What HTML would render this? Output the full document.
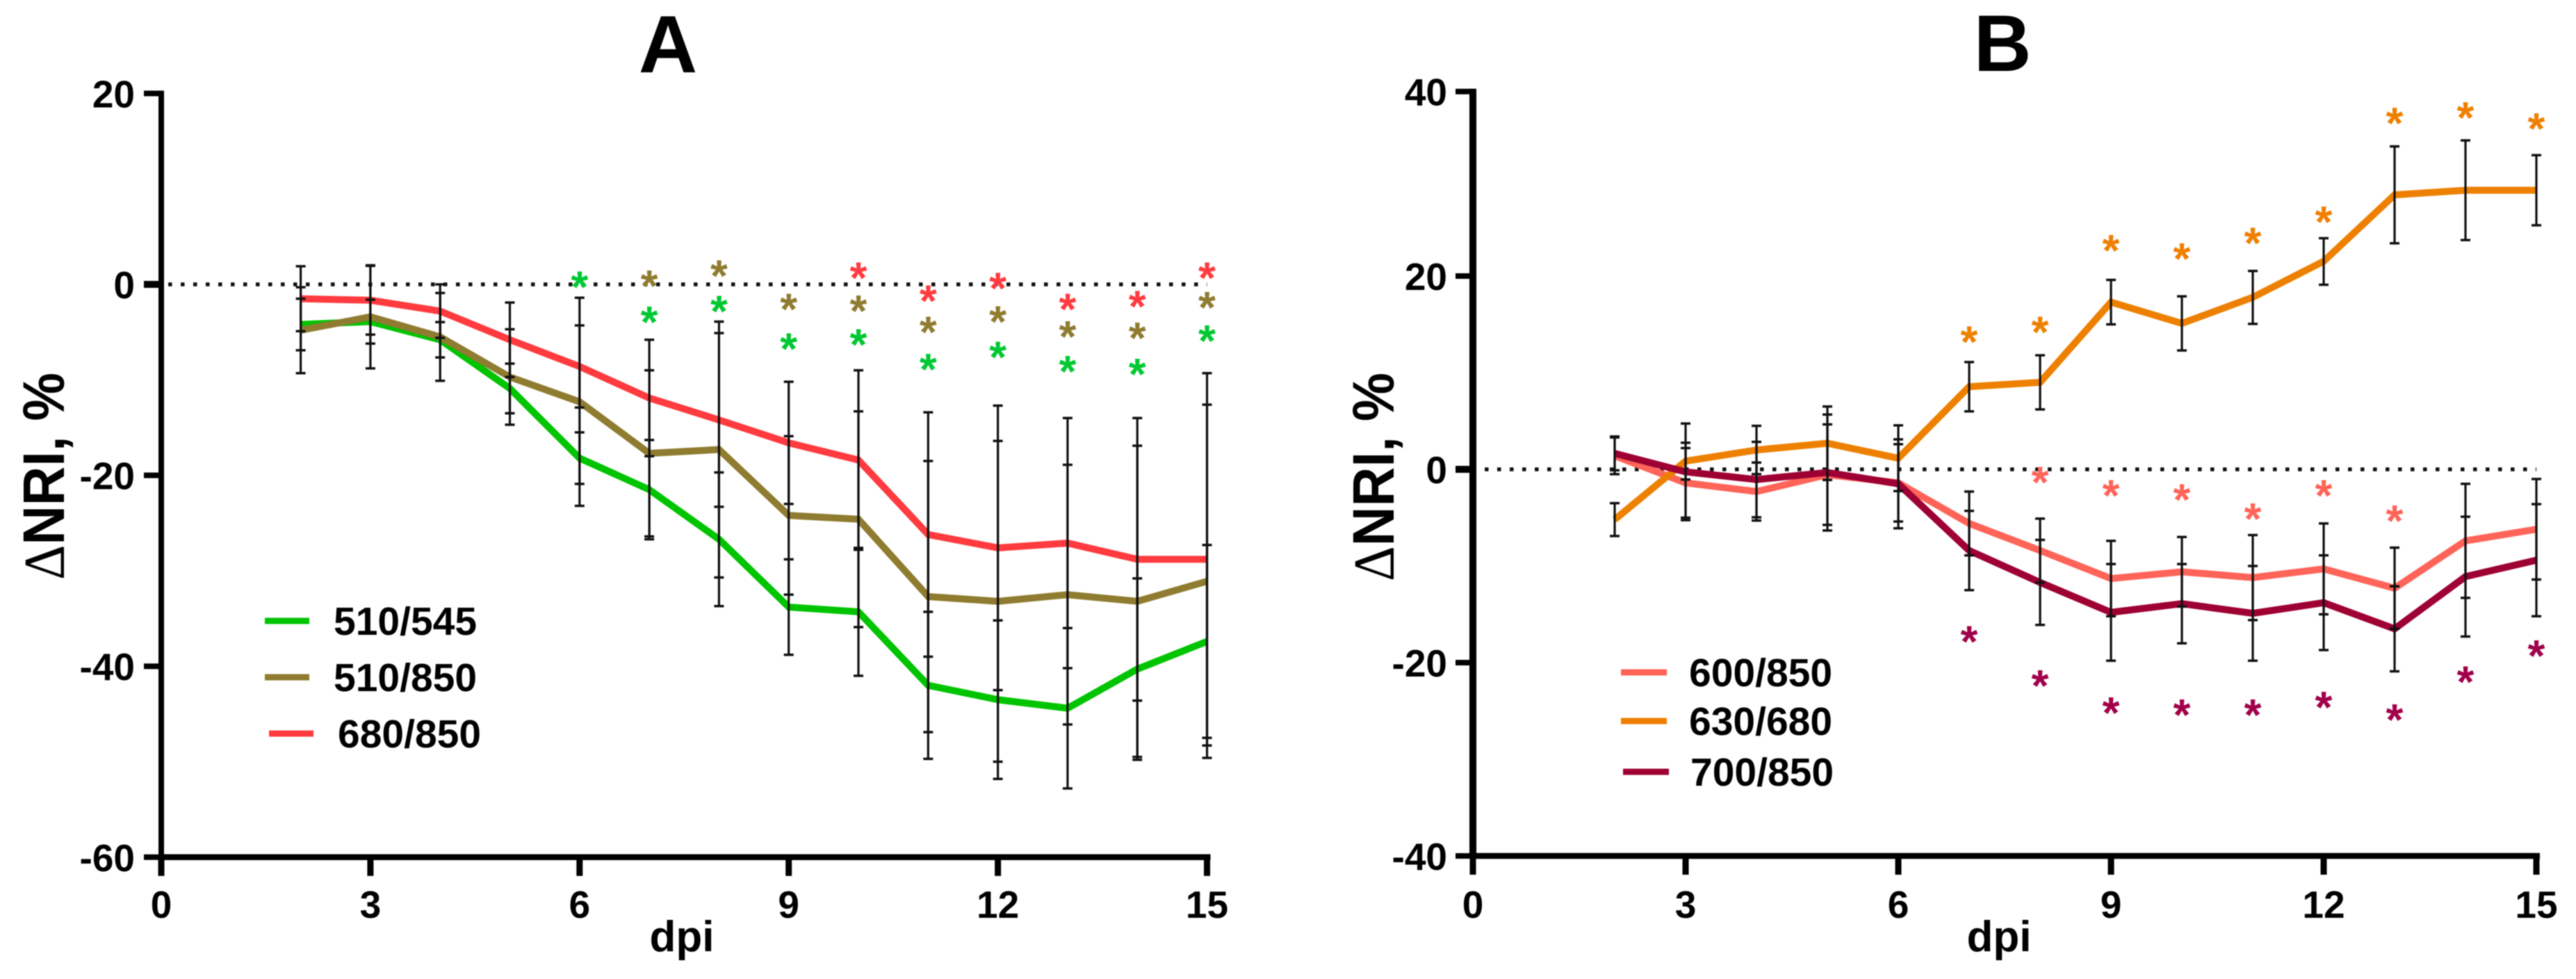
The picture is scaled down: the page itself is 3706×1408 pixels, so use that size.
<!DOCTYPE html>
<html>
<head>
<meta charset="utf-8">
<title>Delta NRI charts</title>
<style>
html,body{margin:0;padding:0;background:#fff;}
svg{display:block;font-family:"Liberation Sans",Arial,sans-serif;filter:blur(0.7px);}
</style>
</head>
<body>
<svg id="chart" xmlns="http://www.w3.org/2000/svg" width="3706" height="1408" viewBox="0 0 3706 1408">
<rect width="3706" height="1408" fill="#fff"/>
<g id="panelA">
<text x="961" y="104" font-size="117" font-weight="bold" text-anchor="middle">A</text>
<text transform="translate(92,685) rotate(-90)" font-size="84" font-weight="bold" text-anchor="middle" textLength="298" lengthAdjust="spacingAndGlyphs"><tspan font-family="'Liberation Serif',serif" font-weight="normal">Δ</tspan>NRI, %</text>
<text x="981" y="1368" font-size="62" font-weight="bold" text-anchor="middle">dpi</text>
</g>
<g id="panelB">
<text x="2881" y="102" font-size="115" font-weight="bold" text-anchor="middle">B</text>
<text transform="translate(2005,686) rotate(-90)" font-size="84" font-weight="bold" text-anchor="middle" textLength="300" lengthAdjust="spacingAndGlyphs"><tspan font-family="'Liberation Serif',serif" font-weight="normal">Δ</tspan>NRI, %</text>
<text x="2876" y="1368" font-size="62" font-weight="bold" text-anchor="middle">dpi</text>
</g>
</svg>
<script>
const dpi = [2,3,4,5,6,7,8,9,10,11,12,13,14,15];
const xTickLabels = [0,3,6,9,12,15];
const yTickLabelsA = [20,0,-20,-40,-60];
const yTickLabelsB = [40,20,0,-20,-40];

const green510545 = [-4.2,-3.9,-5.8,-10.9,-18.2,-21.5,-26.7,-33.8,-34.3,-42.0,-43.5,-44.4,-40.3,-37.4];
const brown510850 = [-4.8,-3.4,-5.5,-9.7,-12.3,-17.7,-17.3,-24.2,-24.6,-32.7,-33.2,-32.5,-33.2,-31.1];
const red680850 = [-1.5,-1.66,-2.8,-5.8,-8.6,-11.9,-14.2,-16.6,-18.4,-26.2,-27.6,-27.1,-28.8,-28.8];
const green510545Err = [2.7,2.3,1.85,2.6,2.7,5.2,7.0,5.0,6.7,7.7,8.3,8.4,9.5,10.1];
const brown510850Err = [4.5,5.4,4.6,5.0,10.9,8.7,13.4,8.3,11.3,14.2,16.8,13.6,16.3,18.5];
const red680850Err = [3.4,3.6,2.8,3.9,4.3,6.1,9.1,6.4,9.4,12.8,14.9,13.1,14.8,19.5];
const green510545Stars = [null,null,null,null,0.55,-3.15,-2.0,-5.95,-5.5,-8.1,-6.8,-8.3,-8.6,-5.1];
const brown510850Stars = [null,null,null,null,null,0.65,1.7,-1.8,-1.95,-4.2,-3.1,-4.65,-4.8,-1.6];
const red680850Stars = [null,null,null,null,null,null,null,null,1.5,-0.9,0.4,-1.8,-1.5,1.5];

const rose600850 = [1.4,-1.4,-2.3,-0.55,-1.4,-5.6,-8.4,-11.3,-10.6,-11.2,-10.3,-12.3,-7.4,-6.2];
const orange630680 = [-5.2,0.85,2.0,2.7,1.15,8.55,9.0,17.3,15.1,17.8,21.6,28.8,29.3,29.3];
const maroon700850 = [1.65,-0.26,-1.06,-0.33,-1.5,-8.4,-11.7,-14.8,-13.9,-14.9,-13.8,-16.5,-11.1,-9.4];
const rose600850Err = [1.9,3.6,3.0,5.2,4.0,3.3,3.3,3.9,3.6,4.4,4.7,4.2,5.9,5.2];
const orange630680Err = [1.7,1.9,2.5,3.8,3.4,2.55,2.8,2.3,2.8,2.75,2.5,5.25,5.4,3.8];
const maroon700850Err = [1.75,5.0,3.9,6.0,4.6,4.1,4.4,5.0,4.1,4.9,4.9,4.4,6.2,5.8];
const rose600850Stars = [null,null,null,null,null,null,-0.55,-1.9,-2.35,-4.3,-1.9,-4.55,null,null];
const orange630680Stars = [null,null,null,null,null,14.0,15.0,23.6,22.7,24.4,26.7,37.4,38.0,36.8];
const maroon700850Stars = [null,null,null,null,null,-17.0,-21.6,-24.4,-24.6,-24.6,-23.8,-25.1,-21.2,-18.5];

const SVGNS = 'http://www.w3.org/2000/svg';
function el(tag, attrs, parent, text) {
  const node = document.createElementNS(SVGNS, tag);
  for (const k in attrs) node.setAttribute(k, attrs[k]);
  if (text !== undefined) node.textContent = text;
  parent.appendChild(node);
  return node;
}
function xScaleA(d) { return 232 + 100.3 * d; }
function yScaleA(v) { return 409 - 13.73 * v; }
function xScaleB(d) { return 2119 + 102 * d; }
function yScaleB(v) {
  if (v >= 20) return 397 - (v - 20) * 13.27;
  return 675 - v * 13.9;
}

function drawAxes(parent, xs, ys, yTicks, tickLeft, labelRight, axisW, dotStart) {
  const top = ys(yTicks[0]), bottom = ys(yTicks[yTicks.length - 1]);
  const x0 = xs(0), xEnd = xs(15);
  const yAxis = el('line', {x1:x0, x2:x0, y1:top-4, y2:bottom+4, stroke:'#000', 'stroke-width':axisW}, parent);
  
  
  const xAxis = el('line', {x1:x0-4, x2:xEnd+5, y1:bottom, y2:bottom, stroke:'#000', 'stroke-width':8.5}, parent);
  
  
  yTicks.forEach(function (t) {
    const tick = el('line', {x1:tickLeft, x2:x0, y1:ys(t), y2:ys(t), stroke:'#000', 'stroke-width':t === 0 ? 10 : 8}, parent);
    
    
    const lab = el('text', {x:labelRight, y:ys(t) + 20, 'font-size':55, 'font-weight':'bold', 'text-anchor':'end'}, parent, String(t));
    
    
  });
  xTickLabels.forEach(function (t) {
    const tick = el('line', {x1:xs(t), x2:xs(t), y1:bottom, y2:bottom + 27, stroke:'#000', 'stroke-width':9}, parent);
    
    
    const lab = el('text', {x:xs(t), y:1320, 'font-size':55, 'font-weight':'bold', 'text-anchor':'middle'}, parent, String(t));
    
    
  });
  const zero = el('line', {x1:dotStart, x2:xEnd, y1:ys(0), y2:ys(0), stroke:'#111', 'stroke-width':5.5, 'stroke-dasharray':'5.5 12.5'}, parent);
  
  
}

function drawSeries(parent, xs, ys, name, color, values, width) {
  const pts = values.map(function (v, i) { return xs(dpi[i]) + ',' + ys(v); }).join(' ');
  const line = el('polyline', {points:pts, fill:'none', stroke:color, 'stroke-width':width, 'stroke-linejoin':'miter'}, parent);
  
  
}

function drawErrors(parent, xs, ys, name, values, errs) {
  values.forEach(function (v, i) {
    const x = xs(dpi[i]), hi = ys(v + errs[i]), lo = ys(v - errs[i]);
    const g = el('g', {stroke:'#111', fill:'none'}, parent);
    
    
    el('line', {x1:x, x2:x, y1:hi, y2:lo, 'stroke-width':3.2}, g);
    el('line', {x1:x-7, x2:x+7, y1:hi, y2:hi, 'stroke-width':3.5}, g);
    el('line', {x1:x-7, x2:x+7, y1:lo, y2:lo, 'stroke-width':3.5}, g);
  });
}

function drawStars(parent, xs, ys, name, color, values) {
  values.forEach(function (v, i) {
    if (v === null) return;
    const s = el('text', {x:xs(dpi[i]), y:ys(v) + 33, 'font-size':64, 'font-weight':'bold', fill:color, 'text-anchor':'middle'}, parent, '*');
    
    
  });
}

function drawLegend(parent, x1, x2, y, textX, color, label) {
  const g = el('g', {}, parent);
  
  
  el('line', {x1:x1, x2:x2, y1:y, y2:y, stroke:color, 'stroke-width':9}, g);
  el('text', {x:textX, y:y + 20, 'font-size':57, 'font-weight':'bold'}, g, label);
}

const panelA = document.getElementById('panelA');
const panelB = document.getElementById('panelB');
const cGreen = '#00c400', cBrown = '#8f7c30', cRed = '#ff3b3f';
const cRose = '#ff6459', cOrange = '#ee8000', cMaroon = '#9e0033';

drawAxes(panelA, xScaleA, yScaleA, yTickLabelsA, 207, 194, 8, 242);
drawSeries(panelA, xScaleA, yScaleA, '510-545', cGreen, green510545, 10);
drawSeries(panelA, xScaleA, yScaleA, '510-850', cBrown, brown510850, 10);
drawSeries(panelA, xScaleA, yScaleA, '680-850', cRed, red680850, 10);
drawErrors(panelA, xScaleA, yScaleA, '510-545', green510545, green510545Err);
drawErrors(panelA, xScaleA, yScaleA, '510-850', brown510850, brown510850Err);
drawErrors(panelA, xScaleA, yScaleA, '680-850', red680850, red680850Err);
drawStars(panelA, xScaleA, yScaleA, '510-545', '#00c832', green510545Stars);
drawStars(panelA, xScaleA, yScaleA, '510-850', cBrown, brown510850Stars);
drawStars(panelA, xScaleA, yScaleA, '680-850', cRed, red680850Stars);
drawLegend(panelA, 381, 445, 893, 480, cGreen, '510/545');
drawLegend(panelA, 381, 445, 974, 480, cBrown, '510/850');
drawLegend(panelA, 387, 451, 1055, 486, cRed, '680/850');

drawAxes(panelB, xScaleB, yScaleB, yTickLabelsB, 2094, 2082, 10, 2136);
drawSeries(panelB, xScaleB, yScaleB, '600-850', cRose, rose600850, 10);
drawSeries(panelB, xScaleB, yScaleB, '630-680', cOrange, orange630680, 10);
drawSeries(panelB, xScaleB, yScaleB, '700-850', cMaroon, maroon700850, 10);
drawErrors(panelB, xScaleB, yScaleB, '600-850', rose600850, rose600850Err);
drawErrors(panelB, xScaleB, yScaleB, '630-680', orange630680, orange630680Err);
drawErrors(panelB, xScaleB, yScaleB, '700-850', maroon700850, maroon700850Err);
drawStars(panelB, xScaleB, yScaleB, '600-850', cRose, rose600850Stars);
drawStars(panelB, xScaleB, yScaleB, '630-680', cOrange, orange630680Stars);
drawStars(panelB, xScaleB, yScaleB, '700-850', '#a0004a', maroon700850Stars);
drawLegend(panelB, 2332, 2398, 967, 2430, cRose, '600/850');
drawLegend(panelB, 2332, 2398, 1037, 2430, cOrange, '630/680');
drawLegend(panelB, 2335, 2401, 1110, 2432, cMaroon, '700/850');
</script>
</body>
</html>
